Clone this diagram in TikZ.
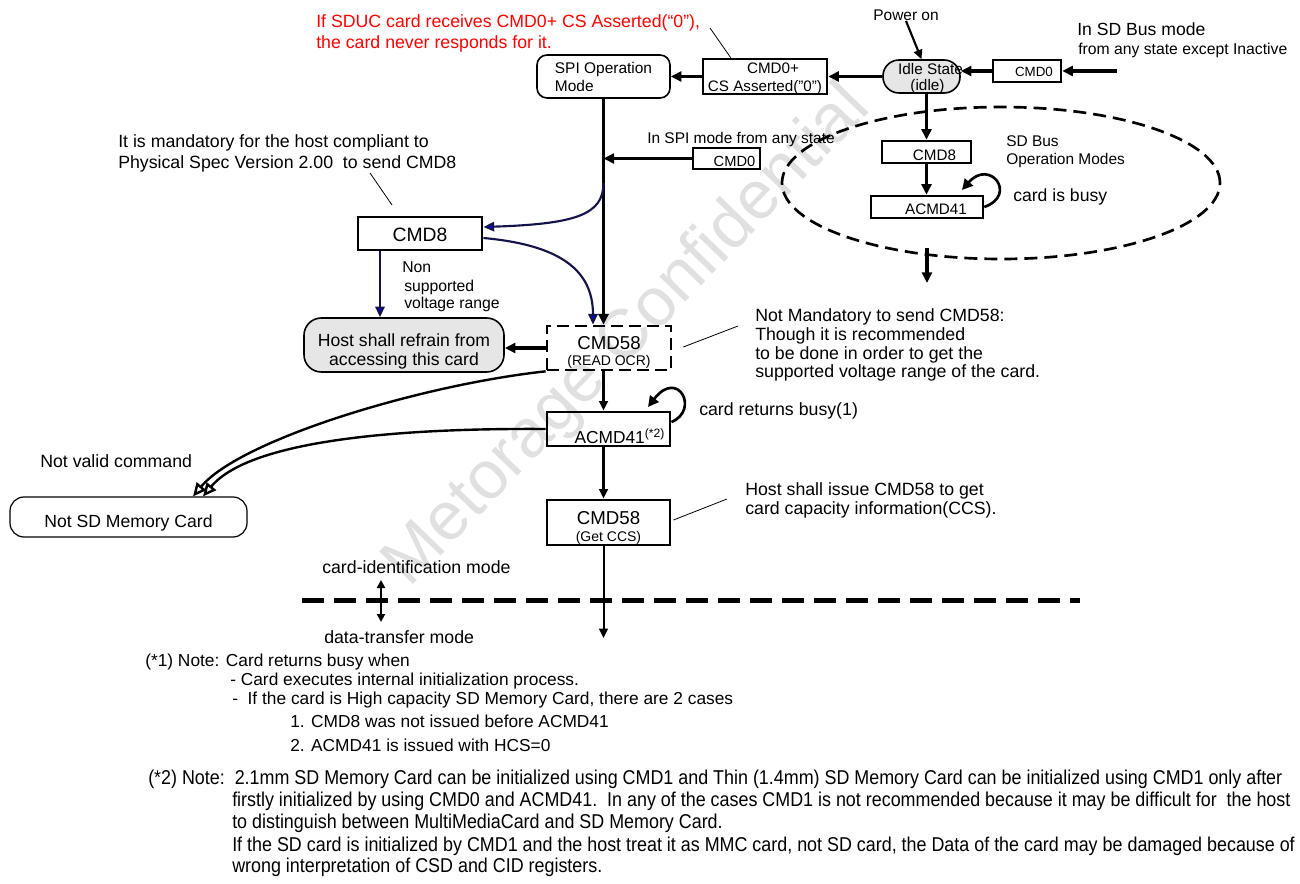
\documentclass[tikz,border=0pt]{standalone}
\usepackage{fontspec}
\setmainfont{Liberation Sans}
\newfontfamily\narrowfont[FakeStretch=0.895]{Liberation Sans}
\usetikzlibrary{arrows.meta,shapes.geometric,calc}
\definecolor{navyline}{HTML}{14144A}
\definecolor{headblue}{HTML}{0000FF}
\definecolor{redtext}{HTML}{FF0000}
\definecolor{boxgray}{HTML}{E6E6E6}
\newcommand\setfs[2]{\fontsize{#1pt}{#2pt}\selectfont}
\newcommand\twoline[3]{\begin{tabular}[t]{@{}#1@{}}#2\\#3\end{tabular}}
\newcommand\zc[1]{\makebox[0pt]{#1}}
\begin{document}
\begin{tikzpicture}[x=0.75pt,y=-0.75pt,
  lbl/.style={inner sep=0pt, anchor=base west},
  clbl/.style={inner sep=0pt, anchor=base},
  fA/.style={font=\setfs{13.3}{16}},
  fB/.style={font=\setfs{11.6}{14}},
  fC/.style={font=\setfs{11.8}{14}},
  fD/.style={font=\setfs{13}{15}},
  fN/.style={font=\narrowfont\setfs{15}{16}},
  cbox/.style={draw, inner sep=0pt},
  thk/.style={line width=2.3pt, -{Triangle[length=8pt,width=7.5pt]}},
  med/.style={line width=1.6pt, -{Triangle[length=7pt,width=6.5pt]}},
  blu/.style={draw=navyline, line width=1.6pt, -{Triangle[length=8pt,width=7pt,fill=headblue]}},
  opn/.style={line width=1.8pt, -{Triangle[open,length=10pt,width=9pt,fill=white]}},
  lead/.style={line width=0.6pt},
  loopa/.style={line width=2pt, -{Triangle[length=8pt,width=8pt]}},
]
\useasboundingbox (0,0) rectangle (1300,884);
\fill[white] (0,0) rectangle (1300,884);

% watermark
\node[rotate=46, text=black!12, font=\setfs{51}{56}, inner sep=0pt] (wm) at (628,337) {Metorage Confidential};

% ---------- boxes ----------
\node[draw, line width=1.2pt, rounded corners=7.5pt, minimum width=99.75pt, minimum height=32.25pt, inner sep=0pt, font=\setfs{11.6}{13.5}, text height=0pt, text depth=3.75pt] (spi) at (603.5,76.5) {\twoline{l}{SPI Operation}{Mode}};
\node[cbox, line width=1.9pt, minimum width=93pt, minimum height=26.25pt, font=\setfs{11.4}{13.5}, text height=0pt, text depth=3.75pt] (cmd0cs) at (765,76.5) {\twoline{c}{\zc{\hspace*{12pt}CMD0+}}{\zc{CS Asserted("0")}}};
\node[draw, line width=1.2pt, fill=boxgray, rounded corners=12pt, minimum width=57.75pt, minimum height=24.75pt, inner sep=0pt, font=\setfs{11.5}{10.5}, text height=0pt, text depth=2.25pt] (idle) at (921.5,76.5) {\twoline{c}{\zc{\hspace*{13.5pt}Idle State}}{\zc{\hspace*{9pt}(idle)}}};
\node[cbox, line width=1.9pt, minimum width=51pt, minimum height=16.5pt, font=\setfs{10}{12}, text height=9pt, text depth=0pt] (cmd0sd) at (1027,71) {\zc{\hspace*{10.5pt}CMD0}};
\node[cbox, line width=1.9pt, minimum width=66.75pt, minimum height=16.5pt, font=\setfs{11.4}{13}, text height=13.5pt, text depth=0pt] (cmd8sd) at (926.5,152) {\zc{\hspace*{12pt}CMD8}};
\node[cbox, line width=1.9pt, minimum width=84pt, minimum height=16.5pt, font=\setfs{11.4}{13}, text height=12pt, text depth=0pt] (acmd41sd) at (927,207) {\zc{\hspace*{13.5pt}ACMD41}};
\node[cbox, line width=1.9pt, minimum width=50.25pt, minimum height=15.75pt, font=\setfs{11}{13}, text height=12.75pt, text depth=0pt] (cmd0spi) at (726.5,158.5) {\zc{\hspace*{12pt}CMD0}};
\node[draw, ellipse, dash pattern=on 9.75pt off 5.25pt, line width=2pt, minimum width=328.5pt, minimum height=114pt, inner sep=0pt] (sdell) at (1001,183) {};
\node[cbox, line width=2.2pt, minimum width=93pt, minimum height=24.75pt, font=\setfs{14.5}{17}, text height=12.75pt, text depth=0pt] (cmd8) at (420,233.5) {CMD8};
\node[draw, line width=1.2pt, fill=boxgray, rounded corners=13pt, minimum width=150pt, minimum height=40.5pt, inner sep=0pt, font=\setfs{13.2}{13.5}, text height=3pt, text depth=0pt] (host) at (404,345) {\twoline{c}{Host shall refrain from}{accessing this card}};
\node[cbox, line width=2pt, dash pattern=on 9pt off 4.5pt, minimum width=93pt, minimum height=33pt, font=\setfs{14}{12}, text height=3pt, text depth=0pt] (cmd58a) at (609,348) {\twoline{c}{CMD58}{\setfs{10.5}{11}(READ OCR)}};
\node[cbox, line width=2.2pt, minimum width=92.25pt, minimum height=25.5pt, font=\setfs{13}{14}, text height=21pt, text depth=0pt] (acmd41) at (608.5,429) {\zc{\hspace*{17pt}ACMD41\textsuperscript{(*2)}}};
\node[cbox, line width=2.2pt, minimum width=92.25pt, minimum height=33.75pt, font=\setfs{14}{12.75}, text height=2.25pt, text depth=0pt] (cmd58b) at (608.5,522.5) {\twoline{c}{CMD58}{\setfs{10.5}{11}(Get CCS)}};
\node[draw, line width=0.9pt, rounded corners=10.5pt, minimum width=177.75pt, minimum height=30pt, inner sep=0pt, font=\setfs{13.2}{15}, text height=15pt, text depth=0pt] (notsd) at (128.5,517) {Not SD Memory Card};

% ---------- texts ----------
\node[lbl, fA, text=redtext] (red1) at (316,28) {If SDUC card receives CMD0+ CS Asserted(“0”),};
\node[lbl, fA, text=redtext] (red2) at (316,49) {the card never responds for it.};
\node[clbl, fB] (pon) at (906,21) {Power on};
\node[lbl, font=\setfs{13.2}{15}] (sdb1) at (1077,36) {In SD Bus mode};
\node[lbl, fC] (sdb2) at (1078,55) {from any state except Inactive};
\node[lbl, fB] (spim) at (647,144) {In SPI mode from any state};
\node[lbl, fB] (sdo1) at (1006,147) {SD Bus};
\node[lbl, fB] (sdo2) at (1006,165) {Operation Modes};
\node[lbl, font=\setfs{13.2}{15}] (busy) at (1013,202) {card is busy};
\node[lbl, fA] (man1) at (118,148) {It is mandatory for the host compliant to};
\node[lbl, fA] (man2) at (118,169) {Physical Spec Version 2.00\ \ to send CMD8};
\node[lbl, fC] (non1) at (402,273) {Non};
\node[lbl, fC] (non2) at (404,292) {supported};
\node[lbl, fC] (non3) at (404,309) {voltage range};
\node[lbl, fA] (nm1) at (755,322) {Not Mandatory to send CMD58:};
\node[lbl, fA] (nm2) at (755,340) {Though it is recommended};
\node[lbl, fA] (nm3) at (755,359) {to be done in order to get the};
\node[lbl, fA] (nm4) at (755,378) {supported voltage range of the card.};
\node[lbl, fA] (crb) at (699,416) {card returns busy(1)};
\node[lbl, fA] (hsi1) at (745,495) {Host shall issue CMD58 to get};
\node[lbl, fA] (hsi2) at (745,514) {card capacity information(CCS).};
\node[lbl, fA] (nvc) at (40,467) {Not valid command};
\node[lbl, fA] (cid) at (322,573) {card-identification mode};
\node[lbl, fA] (dtm) at (324,643) {data-transfer mode};
\node[lbl, fD] (n1a) at (145,666) {(*1) Note: Card returns busy when};
\node[lbl, fD] (n1b) at (230,685) {- Card executes internal initialization process.};
\node[lbl, fD] (n1c) at (232,704) {-\ \ If the card is High capacity SD Memory Card, there are 2 cases};
\node[lbl, fD] (n1d) at (290,727) {1. CMD8 was not issued before ACMD41};
\node[lbl, fD] (n1e) at (290,751) {2. ACMD41 is issued with HCS=0};
\node[lbl, fN] (n2a) at (148,784) {(*2) Note:\ \ 2.1mm SD Memory Card can be initialized using CMD1 and Thin (1.4mm) SD Memory Card can be initialized using CMD1 only after};
\node[lbl, fN] (n2b) at (232,806) {firstly initialized by using CMD0 and ACMD41.\ \ In any of the cases CMD1 is not recommended because it may be difficult for\ \ the host};
\node[lbl, fN] (n2c) at (232,828) {to distinguish between MultiMediaCard and SD Memory Card.};
\node[lbl, fN] (n2d) at (232,851) {If the SD card is initialized by CMD1 and the host treat it as MMC card, not SD card, the Data of the card may be damaged because of};
\node[lbl, fN] (n2e) at (232,872) {wrong interpretation of CSD and CID registers.};

% ---------- coordinates ----------
\coordinate (sdin) at (1117,71);
\coordinate (sdloop) at (962,190);
\coordinate (ed1) at (927,248);
\coordinate (ed2) at (927,283);
\coordinate (bsplit) at (603.5,183);
\coordinate (c8d) at ($(cmd8.south)+(-40,0)$);
\coordinate (spiloop) at (648,407);
\coordinate (finalend) at (603.5,638);
\coordinate (nsd1) at ($(notsd.north)+(64.5,0)$);
\coordinate (nsd2) at ($(notsd.north)+(74.5,0)$);
\coordinate (m1) at (381,580);
\coordinate (m2) at (381,622);
\coordinate (dl1) at (302,600);
\coordinate (dl2) at (1080,600);
\coordinate (rl) at (710,28);
\coordinate (l8a) at (370,173);
\coordinate (l8b) at (392,205);
\coordinate (l58a) at (738,326);
\coordinate (l58b) at (727,499);

% ---------- connectors ----------
\draw[thk] (idle.west) -- (cmd0cs.east);
\draw[thk] (cmd0cs.west) -- (spi.east);
\draw[thk] (sdin) -- (cmd0sd.east);
\draw[thk] (cmd0sd.west) -- (cmd0sd.west -| idle.east);
\draw[med] (pon.base) -- (idle.north);
\draw[thk] (cmd8sd.north |- idle.south) -- (cmd8sd.north);
\draw[thk] (cmd8sd.south) -- (cmd8sd.south |- acmd41sd.north);
\draw[loopa] (acmd41sd.east) .. controls (1018,195) and (990,158) .. (sdloop);
\draw[thk] (ed1) -- (ed2);
\draw[thk] (spi.south) -- (spi.south |- cmd58a.north);
\draw[thk] (cmd0spi.west) -- (cmd0spi.west -| spi.south);
\draw[blu] (bsplit) .. controls (603.5,215) and (575,224) .. ($(cmd8.east)+(0,-6.5)$);
\draw[blu] ($(cmd8.east)+(0,4.5)$) .. controls (560,245) and (593,270) .. ($(cmd58a.north)+(-16,0)$);
\draw[blu] (c8d) -- (c8d |- host.north);
\draw[thk] (cmd58a.west) -- (cmd58a.west -| host.east);
\draw[med] (cmd58a.south -| spi.south) -- (acmd41.north -| spi.south);
\draw[med] (acmd41.south -| spi.south) -- (cmd58b.north -| spi.south);
\draw[line width=1.5pt, -{Triangle[length=7pt,width=6.5pt]}] (cmd58b.south -| spi.south) -- (finalend);
\draw[loopa] ($(acmd41.east)+(0,-7)$) .. controls (700,410) and (678,368) .. (spiloop);
\draw[opn] (cmd58a.south west) .. controls (420,385) and (240,440) .. (nsd1);
\draw[opn] (acmd41.west) .. controls (400,428) and (250,440) .. (nsd2);
\draw[line width=3.75pt, dash pattern=on 16.5pt off 7.5pt] (dl1) -- (dl2);
\draw[line width=1.5pt, {Triangle[length=6pt,width=6pt]}-{Triangle[length=6pt,width=6pt]}] (m1) -- (m2);
\draw[lead] (rl) -- ($(cmd0cs.north west)+(29,0)$);
\draw[lead] (l8a) -- (l8b);
\draw[lead] ($(cmd58a.east)+(11,-1)$) -- (l58a);
\draw[lead] ($(cmd58b.east)+(2,-2.5)$) -- (l58b);
\end{tikzpicture}
\end{document}
